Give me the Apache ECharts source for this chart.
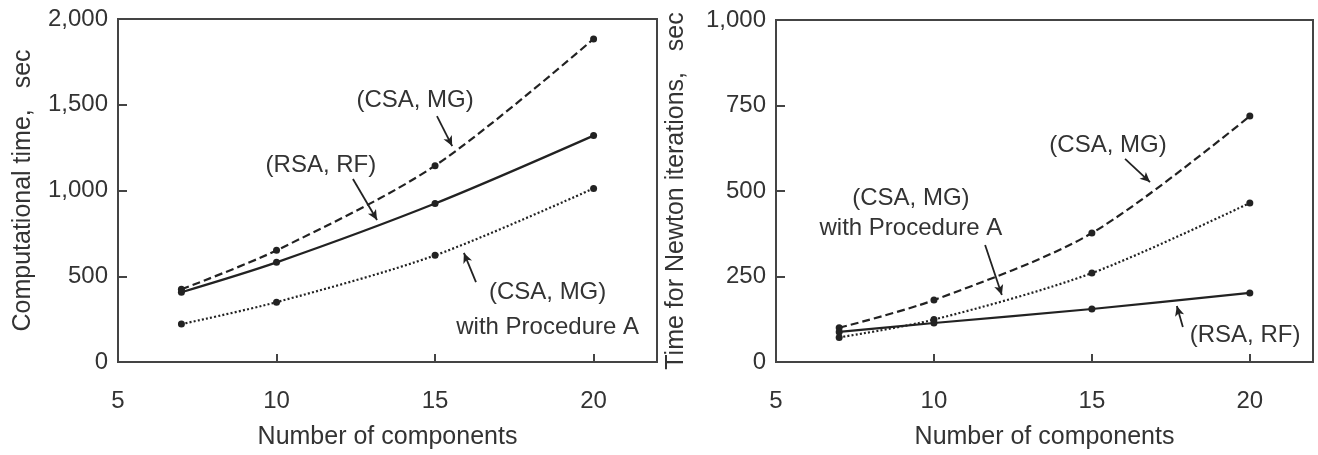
<!DOCTYPE html>
<html>
<head>
<meta charset="utf-8">
<script src="https://cdn.jsdelivr.net/npm/echarts@6/dist/echarts.min.js"></script>
<style>
  html, body { margin: 0; padding: 0; background: #fff; }
  #chart { width: 1318px; height: 455px; }
</style>
</head>
<body>
<div id="chart"></div>
<script>
// Number of components (x values shared by every curve)
const components = [7, 10, 15, 20];

// Left panel: total computational time, sec
const totalCsaMg = [424, 651, 1145, 1884];
const totalRsaRf = [407, 581, 924, 1320];
const totalCsaMgProcA = [221, 349, 622, 1012];

// Right panel: time spent in Newton iterations, sec
const newtonCsaMg = [100, 181, 377, 719];
const newtonRsaRf = [88, 114, 155, 202];
const newtonCsaMgProcA = [72, 124, 260, 465];

// Axis ticks
const xTicks = { min: 5, max: 22, interval: 5 };
const yTicksLeft = { min: 0, max: 2000, interval: 500 };
const yTicksRight = { min: 0, max: 1000, interval: 250 };

const INK = '#222';
const TEXT = '#333';
const FONT = 'Liberation Sans';

const pairs = (xs, ys) => xs.map((x, i) => [x, ys[i]]);
const fmt = v => Number(v).toLocaleString('en-US');

function xAxis(gridIndex) {
  return {
    type: 'value', gridIndex,
    min: xTicks.min, max: xTicks.max, interval: xTicks.interval,
    name: 'Number of components', nameLocation: 'middle', nameGap: 63,
    nameTextStyle: { fontFamily: FONT, fontSize: 25, color: TEXT },
    axisLine: { lineStyle: { color: '#444', width: 2 } },
    axisTick: { inside: true, length: 8, lineStyle: { color: '#444', width: 2 } },
    axisLabel: { margin: 27, fontFamily: FONT, fontSize: 24, color: TEXT, showMaxLabel: false },
    splitLine: { show: false }
  };
}

function yAxis(gridIndex, ticks, name, gap) {
  return {
    type: 'value', gridIndex,
    min: ticks.min, max: ticks.max, interval: ticks.interval,
    name, nameLocation: 'middle', nameGap: gap,
    nameTextStyle: { fontFamily: FONT, fontSize: 25, color: TEXT },
    axisLine: { lineStyle: { color: '#444', width: 2 } },
    axisTick: { inside: true, length: 9, lineStyle: { color: '#444', width: 2 } },
    axisLabel: { margin: 10, fontFamily: FONT, fontSize: 24, color: TEXT, formatter: fmt },
    splitLine: { show: false }
  };
}

// Callout arrows in data coordinates: [from, to]
function arrows(list) {
  return {
    silent: true, animation: false,
    symbol: ['none', 'arrow'], symbolSize: [7, 10],
    lineStyle: { color: INK, width: 1.8, type: 'solid' },
    label: { show: false },
    data: list.map(([a, b]) => [{ coord: a }, { coord: b }])
  };
}

// Callout texts in data coordinates
function notes(list, lineHeight) {
  return {
    silent: true, animation: false,
    symbol: 'circle', symbolSize: 1,
    itemStyle: { color: 'rgba(0,0,0,0)' },
    label: { show: true, position: 'inside', fontFamily: FONT, fontSize: 24, color: TEXT, lineHeight: lineHeight || 30 },
    data: list.map(([coord, text]) => ({ coord, value: text, label: { formatter: text } }))
  };
}

function line(name, xi, yi, ys, dash, extra) {
  return Object.assign({
    name, type: 'line', xAxisIndex: xi, yAxisIndex: yi,
    data: pairs(components, ys),
    smooth: 0.3,
    symbol: 'circle', symbolSize: 7,
    itemStyle: { color: INK },
    lineStyle: { color: INK, width: 2.2, type: dash }
  }, extra || {});
}

const chart = echarts.init(document.getElementById('chart'), null, { renderer: 'canvas' });
chart.setOption({
  animation: false,
  backgroundColor: '#fff',
  grid: [
    { left: 118, top: 19, width: 539, height: 343, show: true, borderColor: '#444', borderWidth: 2 },
    { left: 776, top: 20, width: 537, height: 342, show: true, borderColor: '#444', borderWidth: 2 }
  ],
  xAxis: [xAxis(0), xAxis(1)],
  yAxis: [
    yAxis(0, yTicksLeft, 'Computational time,   sec', 82),
    yAxis(1, yTicksRight, 'Time for Newton iterations,   sec', 87)
  ],
  series: [
    line('(CSA, MG)', 0, 0, totalCsaMg, [8, 4], {
      markLine: arrows([[[15.06, 1434], [15.54, 1259]]]),
      markPoint: notes([[[14.37, 1528], '(CSA, MG)']])
    }),
    line('(RSA, RF)', 0, 0, totalRsaRf, 'solid', {
      markLine: arrows([[[12.41, 1067], [13.17, 828]]]),
      markPoint: notes([[[11.40, 1149], '(RSA, RF)']])
    }),
    line('(CSA, MG) with Procedure A', 0, 0, totalCsaMgProcA, [2, 2.2], {
      markLine: arrows([[[16.29, 466], [15.91, 636]]]),
      markPoint: notes([[[18.55, 306], '(CSA, MG)\nwith Procedure A']], 35)
    }),
    line('(CSA, MG)', 1, 1, newtonCsaMg, [8, 4], {
      markLine: arrows([[[16.05, 594], [16.84, 526]]]),
      markPoint: notes([[[15.51, 634], '(CSA, MG)']])
    }),
    line('(RSA, RF)', 1, 1, newtonRsaRf, 'solid', {
      markLine: arrows([[[17.88, 102], [17.69, 164]]]),
      markPoint: notes([[[19.85, 79], '(RSA, RF)']])
    }),
    line('(CSA, MG) with Procedure A', 1, 1, newtonCsaMgProcA, [2, 2.2], {
      markLine: arrows([[[11.62, 342], [12.15, 196]]]),
      markPoint: notes([[[9.27, 436], '(CSA, MG)\nwith Procedure A']], 30)
    })
  ]
});
</script>
</body>
</html>
